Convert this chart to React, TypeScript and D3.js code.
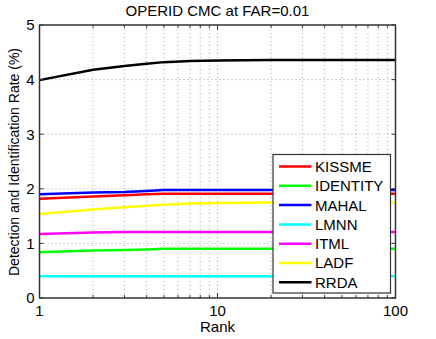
import React from 'react';
import * as d3 from 'd3';

// ranks sampled along the log axis
const ranks = [1, 2, 3, 4, 5, 7, 10, 20, 50, 100];

const seriesNames = ['KISSME', 'IDENTITY', 'MAHAL', 'LMNN', 'ITML', 'LADF', 'RRDA'];
const seriesColors = ['#ff0000', '#00ff00', '#0000ff', '#00ffff', '#ff00ff', '#ffff00', '#000000'];

const kissme = [1.82, 1.86, 1.88, 1.9, 1.91, 1.91, 1.91, 1.91, 1.91, 1.91];
const identity = [0.84, 0.87, 0.88, 0.89, 0.9, 0.9, 0.9, 0.9, 0.9, 0.9];
const mahal = [1.9, 1.93, 1.94, 1.96, 1.98, 1.98, 1.98, 1.98, 1.98, 1.98];
const lmnn = [0.4, 0.4, 0.4, 0.4, 0.4, 0.4, 0.4, 0.4, 0.4, 0.4];
const itml = [1.17, 1.2, 1.21, 1.21, 1.21, 1.21, 1.21, 1.21, 1.21, 1.21];
const ladf = [1.54, 1.62, 1.66, 1.69, 1.71, 1.73, 1.74, 1.75, 1.75, 1.75];
const rrda = [3.99, 4.18, 4.25, 4.29, 4.32, 4.34, 4.35, 4.36, 4.36, 4.36];

const seriesValues = [kissme, identity, mahal, lmnn, itml, ladf, rrda];

const yTicks = [0, 1, 2, 3, 4, 5];
const xMajor = [1, 10, 100];
const xMinor = [2, 3, 4, 5, 6, 7, 8, 9, 20, 30, 40, 50, 60, 70, 80, 90];

const font = '"Liberation Sans", Arial, Helvetica, sans-serif';

export default function App() {
  const width = 436, height = 339;
  const left = 39.5, right = 395.5, top = 25, bottom = 298;

  const x = d3.scaleLog().domain([1, 100]).range([left, right]);
  const y = d3.scaleLinear().domain([0, 5]).range([bottom, top]);

  const line = d3.line<number>()
    .x((_, i) => x(ranks[i]))
    .y(d => y(d));

  const axisColor = '#333';
  const gridColor = '#a8a8a8';

  // legend box
  const lg = { x: 273, y: 154.5, w: 117.5, h: 138.5 };
  const rowH = 19.3;

  return (
    <div style={{ position: 'absolute', left: 0, top: 0 }}>
      <svg width={width} height={height} style={{ display: 'block', background: '#fff', fontFamily: font }}>
        <rect x={0} y={0} width={width} height={height} fill="#fff" />

        {/* grid */}
        {yTicks.filter(t => t > 0 && t < 5).map(t => (
          <line key={'gy' + t} x1={left} x2={right} y1={y(t)} y2={y(t)}
            stroke={gridColor} strokeWidth={1} strokeDasharray="1,3" />
        ))}
        {[...xMinor, 10].map(t => (
          <line key={'gx' + t} x1={x(t)} x2={x(t)} y1={top} y2={bottom}
            stroke={gridColor} strokeWidth={1} strokeDasharray="1,3" />
        ))}

        {/* series */}
        {seriesValues.map((vals, i) => (
          <path key={seriesNames[i]} d={line(vals) || ''} fill="none"
            stroke={seriesColors[i]} strokeWidth={2.5} strokeLinejoin="round" />
        ))}

        {/* axes box */}
        <rect x={left} y={top} width={right - left} height={bottom - top}
          fill="none" stroke={axisColor} strokeWidth={1.5} />

        {/* ticks */}
        {yTicks.map(t => (
          <g key={'ty' + t}>
            <line x1={left} x2={left + 4} y1={y(t)} y2={y(t)} stroke={axisColor} />
            <line x1={right} x2={right - 4} y1={y(t)} y2={y(t)} stroke={axisColor} />
            <text x={left - 5} y={y(t)} dy="0.36em" textAnchor="end" fontSize={15}>{t}</text>
          </g>
        ))}
        {xMajor.map(t => (
          <g key={'tx' + t}>
            <line x1={x(t)} x2={x(t)} y1={bottom} y2={bottom - 5} stroke={axisColor} />
            <line x1={x(t)} x2={x(t)} y1={top} y2={top + 5} stroke={axisColor} />
            <text x={x(t)} y={316} textAnchor="middle" fontSize={15}>{t}</text>
          </g>
        ))}
        {xMinor.map(t => (
          <g key={'tm' + t}>
            <line x1={x(t)} x2={x(t)} y1={bottom} y2={bottom - 3} stroke={axisColor} />
            <line x1={x(t)} x2={x(t)} y1={top} y2={top + 3} stroke={axisColor} />
          </g>
        ))}

        {/* labels */}
        <text x={217.5} y={15.5} textAnchor="middle" fontSize={15}>OPERID CMC at FAR=0.01</text>
        <text x={217.5} y={332} textAnchor="middle" fontSize={15}>Rank</text>
        <text transform="translate(19,162) rotate(-90)" textAnchor="middle" fontSize={14}>
          Detection and Identification Rate (%)
        </text>

        {/* legend */}
        <rect x={lg.x} y={lg.y} width={lg.w} height={lg.h} fill="#fff" stroke={axisColor} strokeWidth={1.2} />
        {seriesNames.map((name, i) => {
          const cy = 166.5 + i * rowH;
          return (
            <g key={'lg' + name}>
              <line x1={279} x2={311.5} y1={cy} y2={cy} stroke={seriesColors[i]} strokeWidth={2.5} />
              <text x={315} y={cy} dy="0.36em" fontSize={15}>{name}</text>
            </g>
          );
        })}
      </svg>
    </div>
  );
}
